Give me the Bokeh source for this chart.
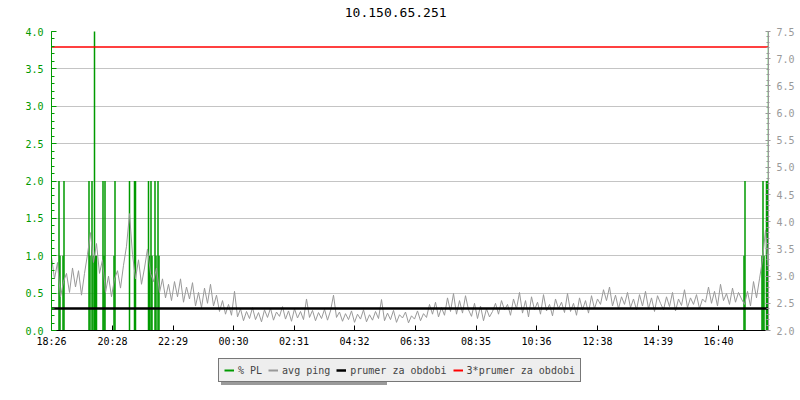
from bokeh.plotting import figure
from bokeh.layouts import column
from bokeh.core.properties import value
from bokeh.models import (Range1d, LinearAxis, FixedTicker, PrintfTickFormatter,
                          Legend, LegendItem, Grid)
from bokeh.embed import file_html
from bokeh.resources import INLINE

# ---------------- data ----------------
title_text = "10.150.65.251"

# x axis: minutes after 18:26
tick_minutes = [0, 122, 243, 364, 485, 606, 727, 849, 970, 1092, 1213, 1334]
tick_labels = ["18:26", "20:28", "22:29", "00:30", "02:31", "04:32",
               "06:33", "08:35", "10:36", "12:38", "14:39", "16:40"]
span_minutes = 1434

left_ticks = [0.0, 0.5, 1.0, 1.5, 2.0, 2.5, 3.0, 3.5, 4.0]
right_ticks = [2.0, 2.5, 3.0, 3.5, 4.0, 4.5, 5.0, 5.5, 6.0, 6.5, 7.0, 7.5]

# avg ping (ms), one sample every 6 minutes from 18:26
ping_step = 6
avg_ping = [
    3.35, 2.95, 3.25, 2.62, 2.90, 3.05, 2.70, 3.15, 2.80, 3.10, 2.65, 3.05,
    3.40, 3.80, 3.25, 3.60, 3.05, 3.30,
    2.70, 3.00, 2.62, 2.95, 3.10, 2.78, 3.20,
    3.55, 4.15, 3.40,
    2.95, 3.30, 2.85, 3.15, 3.50, 3.05, 2.90, 3.15,
    2.70, 2.95, 2.60, 2.85, 2.55, 2.90, 2.62, 2.95, 2.52, 2.80, 2.58, 2.88,
    2.45, 2.70, 2.42, 2.78, 2.50, 2.85, 2.45, 2.65, 2.35, 2.55, 2.30, 2.48, 2.28, 2.72,
    2.25, 2.40, 2.18, 2.35, 2.22, 2.42, 2.20, 2.33, 2.16, 2.38, 2.24, 2.41, 2.19, 2.34,
    2.26, 2.44, 2.21, 2.36, 2.17, 2.40, 2.23, 2.35, 2.20, 2.58, 2.24, 2.37, 2.18, 2.33,
    2.22, 2.39, 2.19, 2.36,
    2.65, 2.24, 2.34, 2.17, 2.31, 2.20, 2.36, 2.15, 2.30, 2.21, 2.38, 2.16, 2.29, 2.19,
    2.35, 2.22, 2.57, 2.18, 2.32, 2.20, 2.37, 2.15, 2.29, 2.23, 2.34, 2.14, 2.27, 2.21,
    2.36, 2.18, 2.31, 2.24,
    2.48, 2.30, 2.52, 2.25, 2.42, 2.28, 2.60, 2.35, 2.68, 2.30, 2.55, 2.32, 2.64, 2.38,
    2.26, 2.50, 2.22, 2.45, 2.18, 2.40, 2.25,
    2.35, 2.50, 2.30, 2.55, 2.38, 2.48, 2.28, 2.58, 2.40, 2.70,
    2.32, 2.55, 2.25, 2.62, 2.38, 2.52, 2.30, 2.66, 2.36, 2.48,
    2.27, 2.58, 2.40, 2.52, 2.33, 2.68, 2.35, 2.50, 2.28, 2.60,
    2.38, 2.55, 2.32, 2.64, 2.40, 2.58, 2.48,
    2.75, 2.55, 2.80, 2.45, 2.65, 2.40, 2.62, 2.48, 2.70, 2.42,
    2.58, 2.38, 2.66, 2.45, 2.72, 2.40, 2.60, 2.35, 2.64, 2.50,
    2.38, 2.62, 2.44, 2.70, 2.36, 2.58, 2.46, 2.75, 2.42, 2.60,
    2.48, 2.66, 2.40, 2.58, 2.52, 2.80, 2.50, 2.72, 2.45, 2.85,
    2.55, 2.68, 2.48, 2.78, 2.52, 2.70, 2.58,
    2.48, 2.72, 2.45, 2.90, 2.60, 2.95, 3.30, 3.85, 3.10,
]
ping_minutes = [i * ping_step for i in range(len(avg_ping))]

# packet loss (%) events: minute after 18:26 and value
pl_minutes = [15, 17, 23, 25, 75, 77, 81, 83, 86, 88, 90, 103, 105, 107,
              125, 127, 156, 166, 168, 194, 196, 199, 201, 207, 209, 213, 215,
              1385, 1387, 1421, 1423, 1425, 1430, 1432, 1434]
pl_values = [2.0, 1.0, 1.0, 2.0, 2.0, 1.0, 2.0, 1.0, 5.0, 1.0, 1.0, 2.0, 1.0, 2.0,
             1.0, 2.0, 2.0, 2.0, 2.0, 2.0, 1.0, 2.0, 1.0, 2.0, 1.0, 2.0, 1.0,
             1.0, 2.0, 1.0, 2.0, 1.0, 2.0, 2.0, 5.0]
pl_base = [0.0] * len(pl_values)

mean_ping = 2.405
triple_mean = 7.215

legend_labels = ["% PL", "avg ping", "prumer za obdobi", "3*prumer za obdobi"]

# ---------------- style ----------------
GREEN = "#009a00"
GRAY = "#999999"
RED = "#ff0000"
FONT = "DejaVu Sans Mono"


def strip(height):
    f = figure(width=800, height=height, output_backend="svg", toolbar_location=None,
               x_range=Range1d(0, 1), y_range=Range1d(0, 1),
               x_axis_type=None, y_axis_type=None,
               min_border_left=51, min_border_right=32, min_border_top=0,
               min_border_bottom=0)
    f.outline_line_color = None
    f.xgrid.visible = False
    f.ygrid.visible = False
    return f


# ---------------- title strip ----------------
t = strip(23)
t.text(x=[0.48], y=[0.48], text=[title_text], text_align="center",
       text_baseline="middle", text_font=value(FONT), text_font_size="13px",
       text_color="black")

# ---------------- main chart ----------------
p = figure(width=800, height=327, output_backend="svg", toolbar_location=None,
           x_range=Range1d(0, span_minutes), y_range=Range1d(0, 4),
           x_axis_type=None, y_axis_type=None,
           min_border_left=51, min_border_right=32, min_border_top=8,
           min_border_bottom=20)
p.outline_line_color = None
p.extra_y_ranges = {"ping": Range1d(2.0, 7.5)}

xaxis = LinearAxis(ticker=FixedTicker(ticks=tick_minutes),
                   major_label_overrides={m: l for m, l in zip(tick_minutes, tick_labels)},
                   axis_line_color="black", major_tick_line_color="black",
                   major_tick_in=5, major_tick_out=0, minor_tick_line_color=None,
                   major_label_text_font=FONT, major_label_text_font_size="10px",
                   major_label_text_color="black", major_label_standoff=5)
p.add_layout(xaxis, "below")

left_minor = [round(0.1 * k, 1) for k in range(0, 41)]
left_ticker = FixedTicker(ticks=left_ticks, minor_ticks=left_minor)
yleft = LinearAxis(ticker=left_ticker, formatter=PrintfTickFormatter(format="%.1f"),
                   axis_line_color=GREEN, major_tick_line_color=GREEN,
                   minor_tick_line_color=GREEN,
                   major_tick_in=5, major_tick_out=0, minor_tick_in=3, minor_tick_out=0,
                   major_label_text_font=FONT, major_label_text_font_size="10px",
                   major_label_text_color=GREEN, major_label_standoff=8)
p.add_layout(yleft, "left")

right_minor = [round(2.0 + 0.1 * k, 1) for k in range(0, 56)]
yright = LinearAxis(y_range_name="ping",
                    ticker=FixedTicker(ticks=right_ticks, minor_ticks=right_minor),
                    formatter=PrintfTickFormatter(format="%.1f"),
                    axis_line_color=GRAY, major_tick_line_color=GRAY,
                    minor_tick_line_color=GRAY,
                    major_tick_in=3, major_tick_out=2, minor_tick_in=2, minor_tick_out=1,
                    major_label_text_font=FONT, major_label_text_font_size="10px",
                    major_label_text_color=GRAY, major_label_standoff=6)
p.add_layout(yright, "right")

p.add_layout(Grid(dimension=1, ticker=FixedTicker(ticks=left_ticks[1:]),
                  grid_line_color="#c4c4c4", grid_line_width=1))

pl_r = p.segment(x0=pl_minutes, y0=pl_base, x1=pl_minutes, y1=pl_values,
                 line_color=GREEN, line_width=1.5)
ping_r = p.line(x=ping_minutes, y=avg_ping, y_range_name="ping",
                line_color=GRAY, line_width=1)
mean_r = p.line(x=[0, span_minutes], y=[mean_ping, mean_ping], y_range_name="ping",
                line_color="black", line_width=2.5)
triple_r = p.line(x=[0, span_minutes], y=[triple_mean, triple_mean], y_range_name="ping",
                  line_color=RED, line_width=1.5)

# ---------------- legend strip below the chart ----------------
q = strip(50)

# key renderers lie outside the strip's ranges: only their legend swatches show
key_colors = [GREEN, GRAY, "black", RED]
key_widths = [2, 2, 2.5, 2]
keys = [q.line(x=[-2, -1], y=[-2, -2], line_color=c, line_width=w)
        for c, w in zip(key_colors, key_widths)]
ghosts = [q.line(x=[-2, -1], y=[-2, -2], line_alpha=0) for _ in legend_labels]

legend_kw = dict(orientation="horizontal",
                 label_text_font=FONT, label_text_font_size="10px",
                 glyph_width=10, glyph_height=12, label_height=12,
                 label_standoff=4, spacing=6, padding=5, margin=0,
                 border_line_width=1, background_fill_alpha=1)

# drop shadow: a same-sized legend with blank labels and hidden swatches
shadow = Legend(items=[LegendItem(label=" " * len(l), renderers=[g])
                       for l, g in zip(legend_labels, ghosts)],
                location=(170, 15), border_line_color="#9a9a9a",
                background_fill_color="#9a9a9a", **legend_kw)
q.add_layout(shadow)

legend = Legend(items=[LegendItem(label=l, renderers=[r]) for l, r in zip(legend_labels, keys)],
                location=(167, 18), border_line_color="black",
                background_fill_color="#eeeeee", **legend_kw)
q.add_layout(legend)

page = column(t, p, q, spacing=0)
open("out.html", "w").write(file_html(page, INLINE))
